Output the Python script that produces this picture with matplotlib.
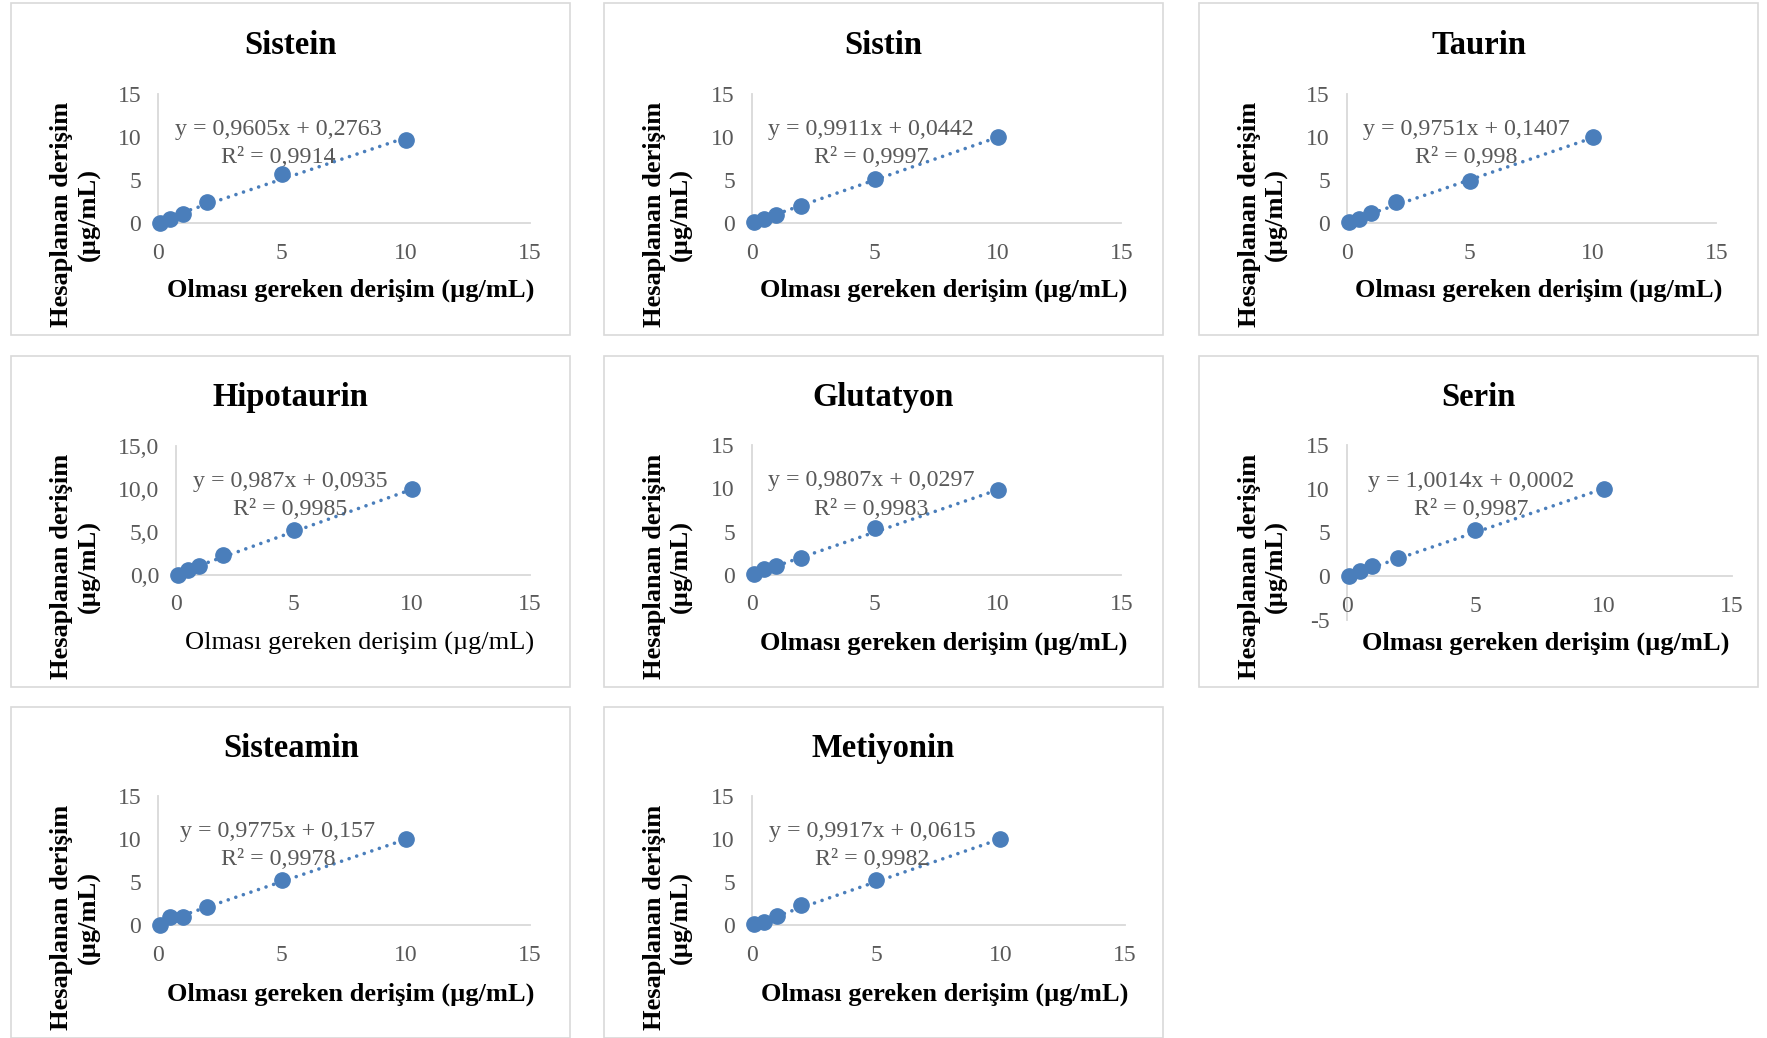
"""Kalibrasyon grafikleri: hesaplanan vs olması gereken derişim"""

import numpy as np
import matplotlib
import matplotlib.pyplot as plt
from matplotlib.patches import Rectangle
from matplotlib.ticker import FuncFormatter

plt.rcParams["font.family"] = ["Liberation Serif", "DejaVu Serif"]
plt.rcParams["axes.unicode_minus"] = False

# data
names = ["Sistein", "Sistin", "Taurin", "Hipotaurin", "Glutatyon", "Serin",
         "Sisteamin", "Metiyonin"]
x_conc = [0.1, 0.5, 1, 2, 5, 10]
y_sistein = [0.05, 0.50, 1.10, 2.50, 5.65, 9.66]
y_sistin = [0.12, 0.43, 0.97, 1.98, 5.14, 9.96]
y_taurin = [0.08, 0.47, 1.20, 2.41, 4.90, 9.92]
y_hipotaurin = [0.02, 0.50, 0.98, 2.31, 5.18, 10.00]
y_glutatyon = [0.08, 0.62, 0.97, 1.98, 5.37, 9.80]
y_serin = [0.02, 0.57, 1.15, 2.10, 5.30, 10.00]
y_sisteamin = [0.04, 0.90, 0.97, 2.06, 5.25, 9.96]
y_metiyonin = [0.12, 0.39, 1.05, 2.33, 5.25, 9.96]
slopes = [0.9605, 0.9911, 0.9751, 0.987, 0.9807, 1.0014, 0.9775, 0.9917]
intercepts = [0.2763, 0.0442, 0.1407, 0.0935, 0.0297, 0.0002, 0.157, 0.0615]
eq_labels = ["y = 0,9605x + 0,2763", "y = 0,9911x + 0,0442", "y = 0,9751x + 0,1407",
             "y = 0,987x + 0,0935", "y = 0,9807x + 0,0297", "y = 1,0014x + 0,0002",
             "y = 0,9775x + 0,157", "y = 0,9917x + 0,0615"]
r2_labels = ["R² = 0,9914", "R² = 0,9997", "R² = 0,998", "R² = 0,9985",
             "R² = 0,9983", "R² = 0,9987", "R² = 0,9978", "R² = 0,9982"]
y_min = [0, 0, 0, 0, 0, -5, 0, 0]
xlabel = "Olması gereken derişim (µg/mL)"
ylabel = "Hesaplanan derişim\n(µg/mL)"

all_y = [y_sistein, y_sistin, y_taurin, y_hipotaurin, y_glutatyon, y_serin,
         y_sisteamin, y_metiyonin]

W, H = 1767, 1038
S = W / 1568  # reference was measured on shrunk view
BLUE = "#4a7ebb"
GRAY = "#595959"

fig = plt.figure(figsize=(W / 100, H / 100), dpi=100)

col_left = [10, 536, 1064]
row_top = [3, 316, 627]
panel_w, panel_h = 496, 294
# axes rect inside each panel (shrunk px): left offset, width, top offset, height
ax_rects = [(130, 330, 80, 115), (131, 328, 80, 115), (131, 328, 80, 115),
            (146, 314, 80, 114), (131, 328, 79, 115), (131, 342, 79, 155),
            (130, 330, 79, 115), (131, 331, 79, 115)]


def fx(px):
    return px * S / W


def fy(py):
    return 1 - py * S / H


for i, name in enumerate(names):
    r, c = divmod(i, 3)
    pl, pt = col_left[c], row_top[r]
    fig.patches.append(Rectangle((fx(pl), fy(pt + panel_h)), fx(panel_w), panel_h * S / H,
                                 transform=fig.transFigure, fill=False,
                                 edgecolor="#d9d9d9", linewidth=1.2, zorder=0))
    lo, wd, to, ht = ax_rects[i]
    ax = fig.add_axes([fx(pl + lo), fy(pt + to + ht), fx(wd), ht * S / H])

    xs = np.array(x_conc)
    ax.plot([xs.min(), xs.max()],
            [slopes[i] * xs.min() + intercepts[i], slopes[i] * xs.max() + intercepts[i]],
            color=BLUE, linewidth=2.6, linestyle=(0, (0.01, 2.2)),
            dash_capstyle="round", zorder=3)
    ax.plot(x_conc, all_y[i], "o", color=BLUE, markersize=11, zorder=4, clip_on=False)

    ax.set_xlim(0, 15)
    ax.set_ylim(y_min[i], 15)
    ax.set_xticks([0, 5, 10, 15])
    ax.set_yticks(np.arange(y_min[i], 16, 5))
    if name == "Hipotaurin":
        ax.yaxis.set_major_formatter(FuncFormatter(lambda v, p: f"{v:.1f}".replace(".", ",")))
    for s in ["top", "right"]:
        ax.spines[s].set_visible(False)
    ax.spines["bottom"].set_position(("data", 0))
    for s in ["left", "bottom"]:
        ax.spines[s].set_color("#d9d9d9")
        ax.spines[s].set_linewidth(1.3)
        ax.spines[s].set_zorder(1)
    ax.tick_params(axis="x", length=0, pad=14, labelsize=17, labelcolor=GRAY)
    ax.tick_params(axis="y", length=0, pad=12, labelsize=17, labelcolor=GRAY)
    ax.patch.set_alpha(0)

    ax.text(4.85, 10.85, eq_labels[i], ha="center", va="center", fontsize=17.3, color=GRAY)
    ax.text(4.85, 7.6, r2_labels[i], ha="center", va="center", fontsize=17.3, color=GRAY)

    # title and axis titles
    fig.text(fx(pl + panel_w / 2), fy(pt + 37), name, ha="center", va="center",
             fontsize=23.5, fontweight="bold")
    weight = "normal" if name == "Hipotaurin" else "bold"
    fig.text(fx(pl + lo + wd / 2 + 6), fy(pt + 255), xlabel, ha="center", va="center",
             fontsize=19, fontweight=weight)
    fig.text(fx(pl + 57), fy(pt + 187), ylabel, ha="center", va="center",
             fontsize=19, fontweight="bold", rotation=90, linespacing=1.2,
             multialignment="center")

fig.savefig("out.png", dpi=100)
